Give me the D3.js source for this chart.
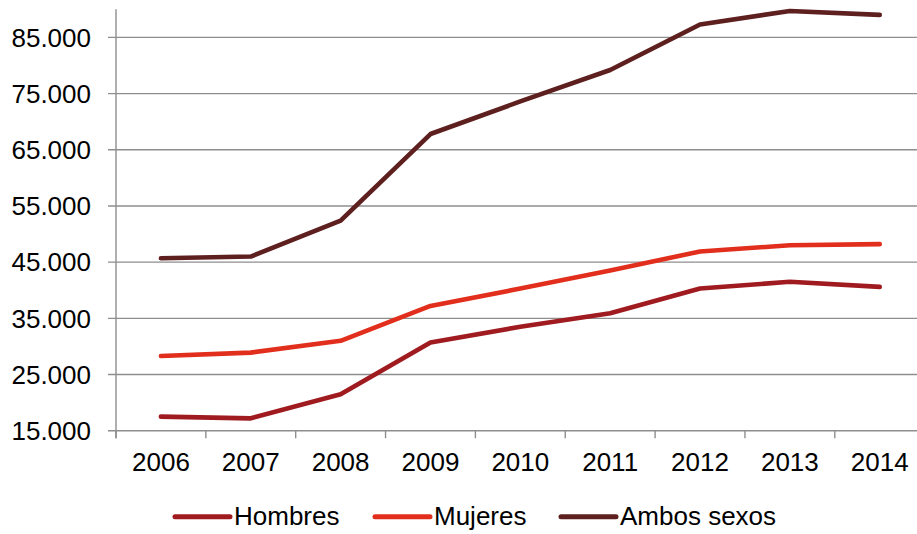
<!DOCTYPE html>
<html>
<head>
<meta charset="utf-8">
<script src="https://cdn.jsdelivr.net/npm/d3@7"></script>
<style>
html,body{margin:0;padding:0;background:#fff;}
svg{display:block;font-family:"Liberation Sans",Arial,sans-serif;}
</style>
</head>
<body>
<svg id="chart" width="917" height="534"></svg>
<script>
const years = ["2006","2007","2008","2009","2010","2011","2012","2013","2014"];
const hombres = [17500, 17200, 21500, 30700, 33500, 35900, 40300, 41500, 40600];
const mujeres = [28300, 28900, 31000, 37200, 40300, 43500, 46900, 48000, 48200];
const ambos = [45700, 46000, 52400, 67800, 73600, 79200, 87300, 89700, 89000];
const yTicks = [15000, 25000, 35000, 45000, 55000, 65000, 75000, 85000];
const seriesNames = ["Hombres", "Mujeres", "Ambos sexos"];
const seriesColors = ["#A01B20", "#E22E1C", "#5E1F1F"];

const seriesList = [
  {name: seriesNames[0], values: hombres, color: seriesColors[0]},
  {name: seriesNames[1], values: mujeres, color: seriesColors[1]},
  {name: seriesNames[2], values: ambos, color: seriesColors[2]}
];

const svg = d3.select("#chart");
const W = 917;
const plotLeft = 116, plotBottom = 430.7, plotTop = 9.3;
const step = 89.85;
const fontSize = 26;
const gridColor = "#8e8e8e";

const x = d3.scaleBand().domain(years).range([plotLeft, plotLeft + step * years.length]).padding(0);
const y = d3.scaleLinear().domain([15000, 90000]).range([plotBottom, plotTop]);

const loc = d3.formatLocale({decimal: ",", thousands: ".", grouping: [3], currency: ["", "€"]});
const fmt = loc.format(",");

// gridlines
svg.append("g").selectAll("line").data(yTicks).join("line")
  .attr("x1", plotLeft - 8).attr("x2", W)
  .attr("y1", d => y(d)).attr("y2", d => y(d))
  .attr("stroke", gridColor).attr("stroke-width", 1.4);

// y axis line
svg.append("line").attr("x1", plotLeft).attr("x2", plotLeft)
  .attr("y1", plotTop).attr("y2", plotBottom + 7.5)
  .attr("stroke", gridColor).attr("stroke-width", 1.4);

// x ticks at band boundaries
svg.append("g").selectAll("line").data(years).join("line")
  .attr("x1", d => x(d)).attr("x2", d => x(d))
  .attr("y1", plotBottom).attr("y2", plotBottom + 7.5)
  .attr("stroke", gridColor).attr("stroke-width", 1.4);

// y labels
svg.append("g").selectAll("text").data(yTicks).join("text")
  .attr("x", 91).attr("y", d => y(d)).attr("dy", "0.355em")
  .attr("text-anchor", "end").attr("font-size", fontSize).attr("fill", "#000")
  .text(d => fmt(d));

// x labels
svg.append("g").selectAll("text").data(years).join("text")
  .attr("x", d => x(d) + x.bandwidth() / 2).attr("y", 471)
  .attr("text-anchor", "middle").attr("font-size", fontSize).attr("fill", "#000")
  .text(d => d);

// lines
const line = d3.line()
  .x((d, i) => x(years[i]) + x.bandwidth() / 2)
  .y(d => y(d));

svg.append("g").selectAll("path").data(seriesList).join("path")
  .attr("d", s => line(s.values))
  .attr("fill", "none").attr("stroke", s => s.color)
  .attr("stroke-width", 4.6).attr("stroke-linecap", "round").attr("stroke-linejoin", "round");

// legend
const legendX = [175, 375, 561];
const legY = 516.7;
const lg = svg.append("g");
seriesList.forEach((s, i) => {
  lg.append("line").attr("x1", legendX[i]).attr("x2", legendX[i] + 55)
    .attr("y1", legY).attr("y2", legY)
    .attr("stroke", s.color).attr("stroke-width", 5).attr("stroke-linecap", "round");
  lg.append("text").attr("x", legendX[i] + 59).attr("y", 525)
    .attr("font-size", fontSize).attr("fill", "#000").text(s.name);
});
</script>
</body>
</html>
